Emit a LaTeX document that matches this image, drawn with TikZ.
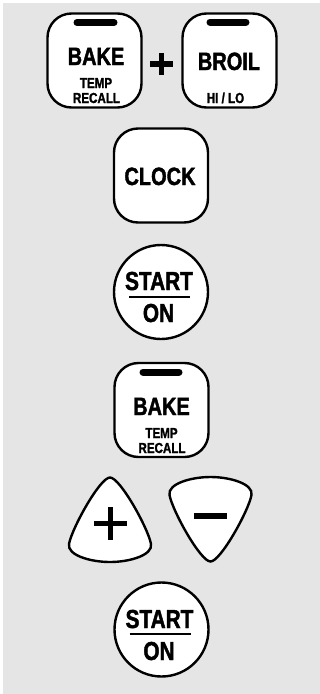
\documentclass[tikz,border=0pt]{standalone}
\usepackage{fontspec}
\setmainfont{Liberation Sans}[FakeStretch=0.8, BoldFeatures={FakeBold=1.6}]
\definecolor{bggray}{RGB}{229,229,229}
\tikzset{
  keybox/.style={draw=black, fill=white, line width=2.4pt, rounded corners=24pt,
    minimum width=94pt, minimum height=94pt, inner sep=0pt},
  keyround/.style={draw=black, fill=white, line width=2.4pt, circle,
    minimum size=94pt, inner sep=0pt},
  keytri/.style={draw=black, fill=white, line width=2.4pt},
  bigtxt/.style={anchor=base, inner sep=0pt, font=\fontsize{25}{26}\selectfont\bfseries},
  smalltxt/.style={anchor=base, inner sep=0pt, font=\fontsize{14.5}{15}\selectfont\bfseries},
  indbar/.style={line width=7pt, line cap=round},
  symline/.style={line width=5.5pt}
}
\begin{document}
\begin{tikzpicture}[x=1pt,y=-1pt]
\useasboundingbox (0,0) rectangle (320,694);
\fill[white] (0,0) rectangle (320,694);
\fill[bggray] (3,3) rectangle (320,694);

% BAKE + BROIL
\node[keybox] (bake1) at (94.5,60.5) {};
\coordinate (b1l) at (77,22.5); \coordinate (b1r) at (114,22.5);
\draw[indbar] (b1l) -- (b1r);
\node[bigtxt] (bake1t) at (96,65) {BAKE};
\node[smalltxt] (temp1) at (96,88) {TEMP};
\node[smalltxt] (recall1) at (96.5,103) {RECALL};

\coordinate (plA) at (150,64); \coordinate (plB) at (173,64);
\coordinate (plC) at (161.5,53); \coordinate (plD) at (161.5,75);
\draw[symline] (plA) -- (plB);
\draw[symline] (plC) -- (plD);

\node[keybox] (broil) at (229.5,60.5) {};
\coordinate (brl) at (210,22); \coordinate (brr) at (246,22);
\draw[indbar] (brl) -- (brr);
\node[bigtxt] (broilt) at (229,70) {BROIL};
\node[smalltxt] (hilo) at (225.5,103) {HI / LO};

% CLOCK
\node[keybox] (clock) at (161,175.5) {};
\node[bigtxt] (clockt) at (160,185) {CLOCK};

% START 1
\node[keyround] (start1) at (161,292) {};
\node[bigtxt, font=\fontsize{26}{28}\selectfont\bfseries] (start1t) at (159,290) {START};
\coordinate (u1l) at (129,296.5); \coordinate (u1r) at (190,296.5);
\draw[line width=2pt] (u1l) -- (u1r);
\node[bigtxt, font=\fontsize{26}{28}\selectfont\bfseries] (on1) at (158.5,322) {ON};

% BAKE 2
\node[keybox] (bake2) at (161.5,410) {};
\coordinate (b2l) at (143,372); \coordinate (b2r) at (179,372);
\draw[indbar] (b2l) -- (b2r);
\node[bigtxt] (bake2t) at (161.5,415) {BAKE};
\node[smalltxt] (temp2) at (161.5,438) {TEMP};
\node[smalltxt] (recall2) at (162,453) {RECALL};

% plus / minus triangles
\draw[keytri] (110,477.5) .. controls (100,477.5) and (72,528) .. (69,544)
  .. controls (67,555) and (90,562) .. (110,562)
  .. controls (130,562) and (153,555) .. (151,544)
  .. controls (148,528) and (120,477.5) .. cycle;
\coordinate (plustri) at (110.5,523.5);
\draw[symline, line width=5pt] ([xshift=-16.5pt]plustri) -- ([xshift=16.5pt]plustri);
\draw[symline, line width=5pt] ([yshift=-16.5pt]plustri) -- ([yshift=16.5pt]plustri);

\draw[keytri] (210.5,561.5) .. controls (200.5,561.5) and (172.5,511) .. (169.5,495)
  .. controls (167.5,484) and (190.5,477) .. (210.5,477)
  .. controls (230.5,477) and (253.5,484) .. (251.5,495)
  .. controls (248.5,511) and (220.5,561.5) .. cycle;
\coordinate (minustri) at (210.5,516);
\draw[symline, line width=6pt] ([xshift=-16.5pt]minustri) -- ([xshift=16.5pt]minustri);

% START 2
\node[keyround] (start2) at (161.5,629.5) {};
\node[bigtxt, font=\fontsize{26}{28}\selectfont\bfseries] (start2t) at (159.5,628) {START};
\coordinate (u2l) at (129.5,633.5); \coordinate (u2r) at (190.5,633.5);
\draw[line width=2pt] (u2l) -- (u2r);
\node[bigtxt, font=\fontsize{26}{28}\selectfont\bfseries] (on2) at (159,660) {ON};
\end{tikzpicture}
\end{document}
